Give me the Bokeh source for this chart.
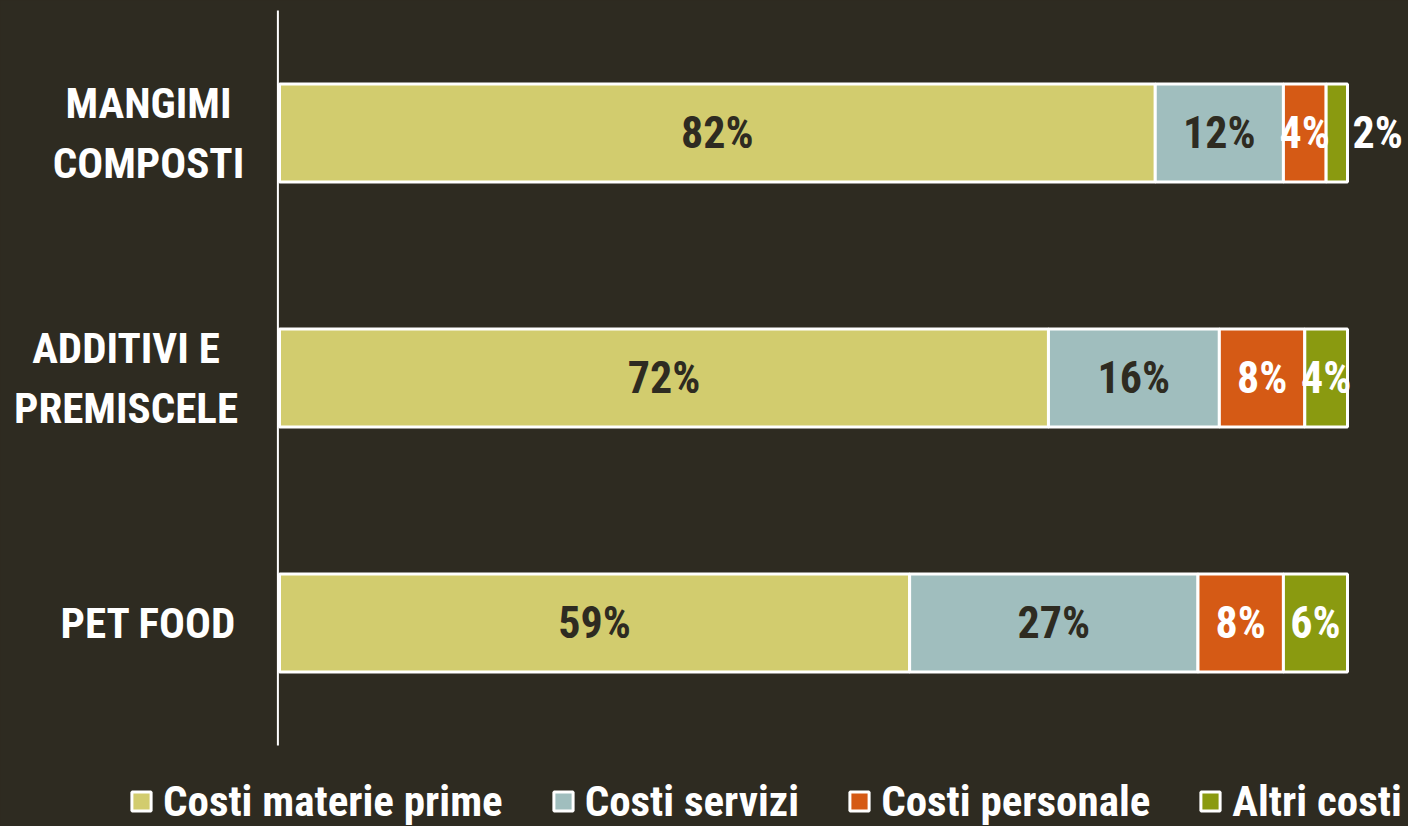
from bokeh.plotting import figure
from bokeh.models import ColumnDataSource, Range1d
from bokeh.core.properties import value
from bokeh.embed import file_html
from bokeh.resources import INLINE

categories = ["MANGIMI\nCOMPOSTI", "ADDITIVI E\nPREMISCELE", "PET FOOD"]
series_names = ["Costi materie prime", "Costi servizi", "Costi personale", "Altri costi"]
materie = [82, 72, 59]
servizi = [12, 16, 27]
personale = [4, 8, 8]
altri = [2, 4, 6]
colors = ["#d2cc6e", "#a0bebe", "#d55a15", "#8a9a10"]
label_colors = ["#2e2b21", "#2e2b21", "#ffffff", "#ffffff"]

BG = "#2e2b21"
FONT = "Liberation Sans Narrow, Arial Narrow, Roboto Condensed, DejaVu Sans Condensed, sans-serif"

n = len(categories)
ypos = [n - i - 0.5 for i in range(n)]  # category slots, top to bottom

# category labels: lines centred within a right-aligned block
CHAR_W = 22.5
LABEL_RIGHT_GAP = 41
cat_off = [-LABEL_RIGHT_GAP - CHAR_W * max(len(s) for s in c.split("\n")) / 2 for c in categories]

keys = ["materie", "servizi", "personale", "altri"]
source = ColumnDataSource(dict(y=ypos, cat=categories, off=cat_off, materie=materie, servizi=servizi,
                               personale=personale, altri=altri))

W, H = 1408, 826
left_px, right_px = 279, 1347   # plot area for 0..100 %
top_px, bottom_px = 10, 745     # category band area
ppu_x = (right_px - left_px) / 100
ppu_y = (bottom_px - top_px) / n

p = figure(width=W, height=H, output_backend="svg", toolbar_location=None,
           x_range=Range1d(-left_px / ppu_x, 100 + (W - right_px) / ppu_x),
           y_range=Range1d(-(H - bottom_px) / ppu_y, n + top_px / ppu_y),
           background_fill_color=BG, border_fill_color=BG,
           min_border=0)
p.outline_line_color = None
p.axis.visible = False
p.grid.visible = False

p.hbar_stack(keys, y="y", height=0.4, color=colors, source=source,
             legend_label=series_names, line_color="white", line_width=3)

# vertical axis line
p.segment(x0=[-0.15], y0=[0], x1=[-0.15], y1=[n], line_color="white", line_width=2)

# category labels
p.text(x=0, y="y", text="cat", source=source, x_offset="off", text_align="center",
       text_baseline="middle", text_color="white", text_font=value(FONT),
       text_font_style="bold", text_font_size="43px", text_line_height=1.2)

# value labels
lx, ly, lt, lc, la, lo = [], [], [], [], [], []
all_vals = [materie, servizi, personale, altri]
for i in range(n):
    start = 0
    for s in range(4):
        v = all_vals[s][i]
        if v < 3:
            lx.append(start + v); la.append("left"); lo.append(5); lc.append("#ffffff")
        else:
            lx.append(start + v / 2); la.append("center"); lo.append(0); lc.append(label_colors[s])
        ly.append(ypos[i]); lt.append(f"{v}%")
        start += v
lsrc = ColumnDataSource(dict(x=lx, y=ly, text=lt, color=lc, align=la, off=lo))
p.text(x="x", y="y", text="text", text_color="color", text_align="align", x_offset="off",
       text_baseline="middle", text_font=value(FONT), text_font_style="bold",
       text_font_size="44px", source=lsrc)

lg = p.legend[0]
lg.location = (129, 0)
lg.orientation = "horizontal"
lg.background_fill_alpha = 0
lg.border_line_alpha = 0
lg.label_text_color = "white"
lg.label_text_font = FONT
lg.label_text_font_style = "bold"
lg.label_text_font_size = "43px"
lg.glyph_width = 24
lg.glyph_height = 24
lg.label_standoff = 10
lg.spacing = 48
lg.padding = 0
lg.margin = 0

html = file_html(p, INLINE)
html = html.replace("<head>", "<head><style>html,body{margin:0;padding:0;background:#2e2b21;overflow:hidden;}</style>", 1)
open("out.html", "w").write(html)
